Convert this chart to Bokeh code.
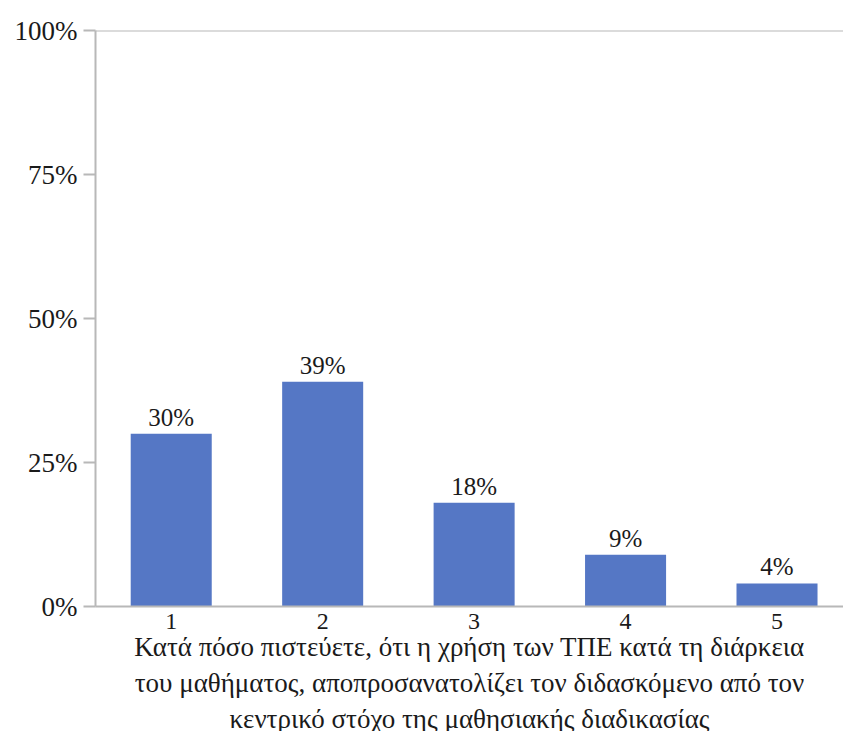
from bokeh.plotting import figure
from bokeh.models import Range1d, FixedTicker, PrintfTickFormatter, Span, ColumnDataSource
from bokeh.core.properties import value
from bokeh.embed import file_html
from bokeh.resources import INLINE

categories = [1, 2, 3, 4, 5]
percentages = [30, 39, 18, 9, 4]
y_ticks = [0, 25, 50, 75, 100]
x_title_lines = ["Κατά πόσο πιστεύετε, ότι η χρήση των ΤΠΕ κατά τη διάρκεια",
                 "του μαθήματος, αποπροσανατολίζει τον διδασκόμενο από τον",
                 "κεντρικό στόχο της μαθησιακής διαδικασίας"]

FONT = "Liberation Serif"
AXIS_COLOR = "#b8b8b8"
BAR_COLOR = "#5577c5"
TEXT_COLOR = "#1a1a1a"

src = ColumnDataSource(dict(x=categories, top=percentages,
                            lab=[f"{v}%" for v in percentages]))

p = figure(frame_width=748, frame_height=576,
           min_border_left=95, min_border_right=0, min_border_top=30,
           min_border_bottom=0,
           x_range=Range1d(0.5, 5.439), y_range=Range1d(0, 100),
           output_backend="svg", toolbar_location=None)

p.vbar(x="x", top="top", width=0.535, source=src, fill_color=BAR_COLOR,
       line_color=None)
p.text(x="x", y="top", text="lab", source=src, text_align="center",
       text_baseline="bottom", y_offset=-3, text_font=value(FONT),
       text_font_size="25px", text_color=TEXT_COLOR)

p.add_layout(Span(location=100, dimension="width", line_color=AXIS_COLOR,
                  line_width=2))

p.outline_line_color = None
p.xgrid.visible = False
p.ygrid.visible = False

ya = p.yaxis[0]
ya.ticker = FixedTicker(ticks=y_ticks)
ya.formatter = PrintfTickFormatter(format="%d%%")
ya.axis_line_color = AXIS_COLOR
ya.axis_line_width = 2
ya.major_tick_line_color = AXIS_COLOR
ya.major_tick_line_width = 2
ya.major_tick_out = 12
ya.major_tick_in = 0
ya.minor_tick_line_color = None
ya.major_label_standoff = 6
ya.major_label_text_font = FONT
ya.major_label_text_font_size = "27px"
ya.major_label_text_color = TEXT_COLOR

xa = p.xaxis[0]
xa.ticker = FixedTicker(ticks=categories)
xa.axis_line_color = AXIS_COLOR
xa.axis_line_width = 2
xa.major_tick_line_color = None
xa.major_tick_out = 0
xa.major_tick_in = 0
xa.minor_tick_line_color = None
xa.major_label_standoff = 7
xa.major_label_text_font = FONT
xa.major_label_text_font_size = "24px"
xa.major_label_text_color = TEXT_COLOR
xa.axis_label = "\n".join(x_title_lines)
xa.axis_label_standoff = 0
xa.axis_label_text_font = FONT
xa.axis_label_text_font_size = "27px"
xa.axis_label_text_font_style = "normal"
xa.axis_label_text_color = TEXT_COLOR

open("out.html", "w").write(file_html(p, INLINE))
